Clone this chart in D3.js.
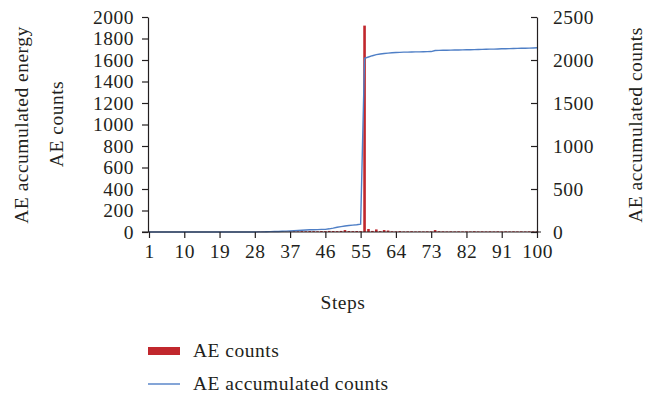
<!DOCTYPE html>
<html>
<head>
<meta charset="utf-8">
<script src="https://cdn.jsdelivr.net/npm/d3@7"></script>
<style>
  body { margin: 0; background: #fff; }
  svg text { font-family: "Liberation Serif", "DejaVu Serif", serif; fill: #231f20; letter-spacing: 0.5px; }
</style>
</head>
<body>
<div id="container"></div>
<script>
// steps 1..100
const steps = d3.range(1, 101);
const stepTicks = [1, 10, 19, 28, 37, 46, 55, 64, 73, 82, 91, 100];
const leftTicks = [0, 200, 400, 600, 800, 1000, 1200, 1400, 1600, 1800, 2000];
const rightTicks = [0, 500, 1000, 1500, 2000, 2500];

// AE counts per step (left axis)
const aeCounts = [
  0, 0, 0, 0, 0, 0, 0, 0, 0, 0,
  0, 0, 0, 0, 0, 0, 0, 0, 0, 0,
  0, 0, 0, 0, 0, 0, 0, 0, 4, 3,
  4, 5, 3, 4, 5, 4, 6, 7, 6, 8,
  7, 9, 8, 7, 9, 8, 10, 9, 8, 10,
  18, 9, 8, 9, 8, 1920, 28, 10, 24, 8,
  18, 14, 7, 6, 8, 5, 6, 7, 5, 6,
  5, 6, 6, 18, 7, 6, 5, 6, 5, 6,
  5, 6, 5, 7, 5, 6, 5, 6, 5, 6,
  5, 6, 5, 6, 5, 6, 5, 6, 5, 6
];

// AE accumulated counts per step (right axis)
const aeAccum = [
  0, 0, 0, 0, 0, 0, 0, 0, 0, 0,
  0, 0, 0, 0, 0, 0, 0, 0, 0, 0,
  0, 0, 0, 0, 0, 0, 0, 0, 1, 2,
  3, 4, 5, 6, 8, 10, 12, 15, 18, 21,
  24, 26, 27, 28, 30, 31, 37, 45, 55, 62,
  70, 75, 80, 85, 92, 2020, 2035, 2050, 2062, 2070,
  2076, 2080, 2084, 2087, 2089, 2091, 2092, 2093, 2094, 2095,
  2096, 2097, 2098, 2110, 2112, 2113, 2114, 2115, 2116, 2117,
  2118, 2119, 2120, 2121, 2122, 2124, 2125, 2126, 2127, 2128,
  2130, 2131, 2132, 2133, 2135, 2136, 2137, 2138, 2140, 2143
];

const width = 654;
const height = 400;
const margin = { left: 148, right: 117, top: 17, bottom: 168 };

const svg = d3.select('#container')
  .append('svg')
  .attr('width', width)
  .attr('height', height);

const x = d3.scaleLinear().domain([1, 100]).range([margin.left + 1, width - margin.right]);
const yLeft = d3.scaleLinear().domain([0, 2000]).range([height - margin.bottom, margin.top]);
const yRight = d3.scaleLinear().domain([0, 2500]).range([height - margin.bottom, margin.top]);

const red = '#c1272d';
const blue = '#4f7fc6';
const fontSize = 19.5;

// bars
svg.append('g')
  .selectAll('rect')
  .data(steps)
  .join('rect')
  .attr('x', (d) => x(d) - 1.3)
  .attr('width', 2.6)
  .attr('y', (d, i) => yLeft(aeCounts[i]))
  .attr('height', (d, i) => yLeft(0) - yLeft(aeCounts[i]))
  .attr('fill', red);

// line
const line = d3.line()
  .x((d) => x(d))
  .y((d, i) => yRight(aeAccum[i]));

svg.append('path')
  .datum(steps)
  .attr('d', line)
  .attr('fill', 'none')
  .attr('stroke', blue)
  .attr('stroke-width', 1.4);

// axes
const fmt = d3.format('d');

const xAxis = svg.append('g')
  .attr('transform', `translate(0,${yLeft(0)})`)
  .call(d3.axisBottom(x).tickValues(stepTicks).tickFormat(fmt).tickSize(6).tickPadding(6).tickSizeOuter(0));

const leftAxis = svg.append('g')
  .attr('transform', `translate(${margin.left},0)`)
  .call(d3.axisLeft(yLeft).tickValues(leftTicks).tickFormat(fmt).tickSize(6).tickPadding(8).tickSizeOuter(0));

const rightAxis = svg.append('g')
  .attr('transform', `translate(${width - margin.right},0)`)
  .call(d3.axisRight(yRight).tickValues(rightTicks).tickFormat(fmt).tickSize(-6).tickPadding(16).tickSizeOuter(0));

[xAxis, leftAxis, rightAxis].forEach((g) => {
  g.selectAll('text')
    .attr('font-size', fontSize)
    .style('font-family', '"Liberation Serif", serif')
    .attr('fill', '#231f20');
  g.selectAll('line, path.domain')
    .attr('stroke', '#231f20')
    .attr('stroke-width', 1.2);
});

// extend the x baseline a little past both axes
xAxis.select('path.domain')
  .attr('d', `M${margin.left - 6},0H${width - margin.right + 4}`);

// axis titles
svg.append('text')
  .attr('transform', `translate(28,125) rotate(-90)`)
  .attr('text-anchor', 'middle')
  .attr('font-size', fontSize)
  .text('AE accumulated energy');

svg.append('text')
  .attr('transform', `translate(63,124) rotate(-90)`)
  .attr('text-anchor', 'middle')
  .attr('font-size', fontSize)
  .text('AE counts');

svg.append('text')
  .attr('transform', `translate(642,125) rotate(-90)`)
  .attr('text-anchor', 'middle')
  .attr('font-size', fontSize)
  .text('AE accumulated counts');

svg.append('text')
  .attr('x', 343)
  .attr('y', 309)
  .attr('text-anchor', 'middle')
  .attr('font-size', fontSize)
  .text('Steps');

// legend
const legend = svg.append('g');
legend.append('rect')
  .attr('x', 148).attr('y', 347)
  .attr('width', 32).attr('height', 8)
  .attr('fill', red);
legend.append('text')
  .attr('x', 193).attr('y', 357)
  .attr('font-size', fontSize)
  .text('AE counts');
legend.append('line')
  .attr('x1', 148).attr('x2', 180)
  .attr('y1', 384).attr('y2', 384)
  .attr('stroke', blue)
  .attr('stroke-width', 1.4);
legend.append('text')
  .attr('x', 193).attr('y', 390)
  .attr('font-size', fontSize)
  .text('AE accumulated counts');
</script>
</body>
</html>
